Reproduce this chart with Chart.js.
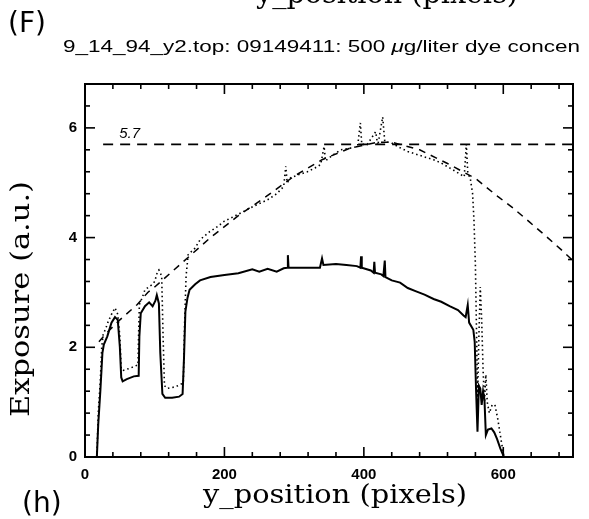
<!DOCTYPE html>
<html>
<head>
<meta charset="utf-8">
<script src="https://cdn.jsdelivr.net/npm/chart.js@4.4.1/dist/chart.umd.min.js"></script>
<style>
  body { margin: 0; background: #fff; }
  canvas { display: block; }
</style>
</head>
<body>
<canvas id="chart" width="589" height="519"></canvas>
<script>
// lower trace (solid)
var solidX = [0, 17, 19, 22, 25, 27, 32, 38, 43, 47, 50, 52, 54, 60, 70, 77, 78, 80, 86, 92, 97, 101, 103, 106, 108, 111, 115, 125, 135, 140, 142, 144, 147, 150, 158, 165, 180, 200, 220, 240, 250, 262, 275, 285, 290, 291, 292, 300, 320, 337, 340, 342, 360, 375, 390, 395, 396, 397, 410, 414, 415, 416, 425, 428, 430, 431, 440, 452, 463, 475, 487, 500, 511, 523, 535, 543, 546, 549, 551, 557, 559, 561, 563, 565, 567, 569, 571, 573, 575, 578, 583, 587, 591, 596, 601, 700]
var solidY = [0, 0, 0.6, 1.2, 1.9, 2.05, 2.2, 2.45, 2.55, 2.5, 2.0, 1.45, 1.38, 1.42, 1.47, 1.48, 2.2, 2.62, 2.75, 2.82, 2.75, 2.85, 2.95, 2.8, 1.9, 1.15, 1.08, 1.08, 1.1, 1.15, 1.8, 2.65, 2.9, 3.05, 3.15, 3.22, 3.28, 3.32, 3.35, 3.42, 3.38, 3.43, 3.38, 3.44, 3.45, 3.68, 3.45, 3.45, 3.45, 3.45, 3.62, 3.5, 3.52, 3.5, 3.48, 3.45, 3.66, 3.45, 3.4, 3.36, 3.56, 3.36, 3.33, 3.3, 3.58, 3.28, 3.22, 3.18, 3.08, 3.02, 2.96, 2.88, 2.83, 2.75, 2.68, 2.58, 2.55, 2.77, 2.45, 2.32, 2.1, 1.2, 0.46, 1.3, 1.25, 0.95, 1.2, 1.05, 0.4, 0.5, 0.52, 0.45, 0.33, 0.15, 0, 0]

// upper trace (dotted)
var dottedX = [17, 19, 22, 24, 26, 30, 33, 38, 43, 47, 50, 52, 55, 65, 76, 77, 78, 82, 86, 96, 100, 104, 106, 110, 112, 114, 118, 130, 141, 143, 145, 148, 158, 165, 178, 190, 200, 213, 225, 237, 250, 262, 275, 285, 288, 290, 295, 307, 319, 330, 338, 343, 345, 355, 367, 380, 391, 395, 397, 405, 417, 420, 427, 430, 439, 450, 463, 475, 487, 500, 511, 523, 535, 544, 547, 549, 553, 556, 558, 560, 562, 563, 565, 567, 569, 571, 573, 575, 577, 580, 584, 588, 592, 597, 601]
var dottedY = [0, 0.8, 1.4, 2.0, 2.23, 2.35, 2.46, 2.6, 2.72, 2.6, 2.2, 1.6, 1.58, 1.62, 1.68, 2.3, 2.78, 2.9, 3.05, 3.14, 3.2, 3.38, 3.41, 3.3, 2.2, 1.3, 1.25, 1.28, 1.35, 2.5, 3.3, 3.69, 3.81, 3.96, 4.1, 4.2, 4.3, 4.38, 4.46, 4.54, 4.62, 4.69, 4.8, 4.93, 5.3, 5.0, 5.09, 5.15, 5.2, 5.27, 5.33, 5.66, 5.4, 5.5, 5.6, 5.63, 5.66, 6.09, 5.7, 5.7, 5.93, 5.68, 6.2, 5.75, 5.73, 5.65, 5.57, 5.52, 5.47, 5.42, 5.36, 5.27, 5.18, 5.11, 5.7, 5.2, 5.05, 4.8, 4.3, 3.5, 2.0, 1.0, 2.2, 3.1, 2.5, 1.6, 1.0, 1.5, 1.0, 0.8, 0.95, 0.95, 0.7, 0.3, 0]

// fitted envelope (dashed)
var fitX = [20, 30, 50, 75, 90, 100, 140, 180, 220, 260, 300, 340, 380, 420, 440, 480, 520, 560, 592, 614, 637, 659, 683, 700]
var fitY = [2.1, 2.25, 2.5, 2.78, 3.0, 3.1, 3.55, 4.0, 4.4, 4.75, 5.12, 5.42, 5.63, 5.74, 5.74, 5.6, 5.35, 5.08, 4.75, 4.54, 4.29, 4.05, 3.78, 3.58]

// reference level
var levelX = [26, 700]
var levelY = [5.7, 5.7]
var levelLabel = '5.7'

var xTickValues = [0, 200, 400, 600]
var yTickValues = [0, 2, 4, 6]
var xMinorTicks = [40, 80, 120, 160, 240, 280, 320, 360, 440, 480, 520, 560, 640, 680]
var yMinorTicks = [0.4, 0.8, 1.2, 1.6, 2.4, 2.8, 3.2, 3.6, 4.4, 4.8, 5.2, 5.6, 6.4]

var titleText = '9_14_94_y2.top: 09149411: 500 '
var titleMu = '\u03bc'
var titleRest = 'g/liter dye concen'
var xTitle = 'y_position (pixels)'
var yTitle = 'Exposure (a.u.)'

function pts(xs, ys) {
    var out = []
    for (var i = 0; i < xs.length; i++) out.push({x: xs[i], y: ys[i]})
    return out
}

// frame and inward ticks on all four sides
var frameTicks = {
    id: 'frameTicks',
    afterDatasetsDraw: function (chart) {
        var ctx = chart.ctx, a = chart.chartArea, sx = chart.scales.x, sy = chart.scales.y
        ctx.save()
        ctx.strokeStyle = '#000'
        ctx.lineWidth = 2
        ctx.strokeRect(a.left, a.top, a.right - a.left, a.bottom - a.top)
        ctx.lineWidth = 1.6
        function seg(x1, y1, x2, y2) {
            ctx.beginPath(); ctx.moveTo(x1, y1); ctx.lineTo(x2, y2); ctx.stroke()
        }
        xTickValues.forEach(function (v) {
            var p = sx.getPixelForValue(v)
            seg(p, a.bottom, p, a.bottom - 10); seg(p, a.top, p, a.top + 10)
        })
        xMinorTicks.forEach(function (v) {
            var p = sx.getPixelForValue(v)
            seg(p, a.bottom, p, a.bottom - 5); seg(p, a.top, p, a.top + 5)
        })
        yTickValues.forEach(function (v) {
            var p = sy.getPixelForValue(v)
            seg(a.left, p, a.left + 10, p); seg(a.right, p, a.right - 10, p)
        })
        yMinorTicks.forEach(function (v) {
            var p = sy.getPixelForValue(v)
            seg(a.left, p, a.left + 5, p); seg(a.right, p, a.right - 5, p)
        })
        ctx.restore()
    }
}

// write text so that it fills a given length (the scan is a bit stretched)
function fitText(ctx, str, cx, cy, len, angle) {
    ctx.save()
    ctx.translate(cx, cy)
    ctx.rotate(angle)
    ctx.scale(len / ctx.measureText(str).width, 1)
    ctx.textAlign = 'center'
    ctx.fillText(str, 0, 0)
    ctx.restore()
}

// titles and hand-written marks
var texts = {
    id: 'texts',
    afterDraw: function (chart) {
        var ctx = chart.ctx, sx = chart.scales.x, sy = chart.scales.y
        ctx.save()
        ctx.fillStyle = '#000'
        ctx.textBaseline = 'alphabetic'

        // cut-off axis title of the plot above
        ctx.font = '27px "DejaVu Serif"'
        fitText(ctx, xTitle, 387, 3, 262, 0)

        // hand marks
        ctx.font = '28px "DejaVu Sans"'
        ctx.textAlign = 'left'
        ctx.fillText('(F)', 8, 32)
        ctx.fillText('(h)', 22, 512)

        // title, stretched to the width of the original
        ctx.save()
        ctx.font = '16px "Liberation Sans"'
        var w1 = ctx.measureText(titleText).width
        ctx.font = 'italic 16px "Liberation Sans"'
        var w2 = ctx.measureText(titleMu).width
        ctx.font = '16px "Liberation Sans"'
        var w3 = ctx.measureText(titleRest).width
        var k = (580 - 63) / (w1 + w2 + w3)
        ctx.translate(63, 52)
        ctx.scale(k, 1)
        ctx.fillText(titleText, 0, 0)
        ctx.font = 'italic 16px "Liberation Sans"'
        ctx.fillText(titleMu, w1, 0)
        ctx.font = '16px "Liberation Sans"'
        ctx.fillText(titleRest, w1 + w2, 0)
        ctx.restore()

        // level label
        ctx.font = 'italic 15px "Liberation Sans"'
        ctx.textAlign = 'center'
        ctx.fillText(levelLabel, sx.getPixelForValue(64), sy.getPixelForValue(5.82))

        // axis titles
        ctx.font = '26px "DejaVu Serif"'
        fitText(ctx, xTitle, 335, 503, 264, 0)
        fitText(ctx, yTitle, 29, 299, 236, -Math.PI / 2)
        ctx.restore()
    }
}

var ctx = document.getElementById('chart').getContext('2d')
var chart = new Chart(ctx, {
    type: 'line',
    data: {
        datasets: [{
            label: 'fit',
            data: pts(fitX, fitY),
            borderColor: '#000',
            borderWidth: 1.5,
            borderDash: [7, 6],
            pointRadius: 0
        }, {
            label: 'level',
            data: pts(levelX, levelY),
            borderColor: '#000',
            borderWidth: 1.8,
            borderDash: [10, 7],
            pointRadius: 0
        }, {
            label: 'dotted',
            data: pts(dottedX, dottedY),
            borderColor: '#000',
            borderWidth: 1.6,
            borderDash: [1.5, 3],
            pointRadius: 0
        }, {
            label: 'solid',
            data: pts(solidX, solidY),
            borderColor: '#000',
            borderWidth: 2,
            pointRadius: 0
        }]
    },
    options: {
        responsive: false,
        animation: false,
        layout: { padding: { top: 84, right: 16, left: 0, bottom: 0 } },
        plugins: { legend: { display: false }, tooltip: { enabled: false } },
        elements: { line: { tension: 0, fill: false } },
        scales: {
            x: {
                type: 'linear', min: 0, max: 700,
                afterFit: function (s) { s.height = 62 },
                afterBuildTicks: function (s) { s.ticks = xTickValues.map(function (v) { return {value: v} }) },
                grid: { display: false, drawTicks: false },
                border: { display: false },
                ticks: { padding: 9, color: '#000', maxRotation: 0, font: { family: 'Liberation Sans', size: 15, weight: 'bold' } }
            },
            y: {
                type: 'linear', min: 0, max: 6.8,
                afterFit: function (s) { s.width = 85 },
                afterBuildTicks: function (s) { s.ticks = yTickValues.map(function (v) { return {value: v} }) },
                grid: { display: false, drawTicks: false },
                border: { display: false },
                ticks: { padding: 8, color: '#000', font: { family: 'Liberation Sans', size: 15, weight: 'bold' } }
            }
        }
    },
    plugins: [frameTicks, texts]
})
</script>
</body>
</html>
